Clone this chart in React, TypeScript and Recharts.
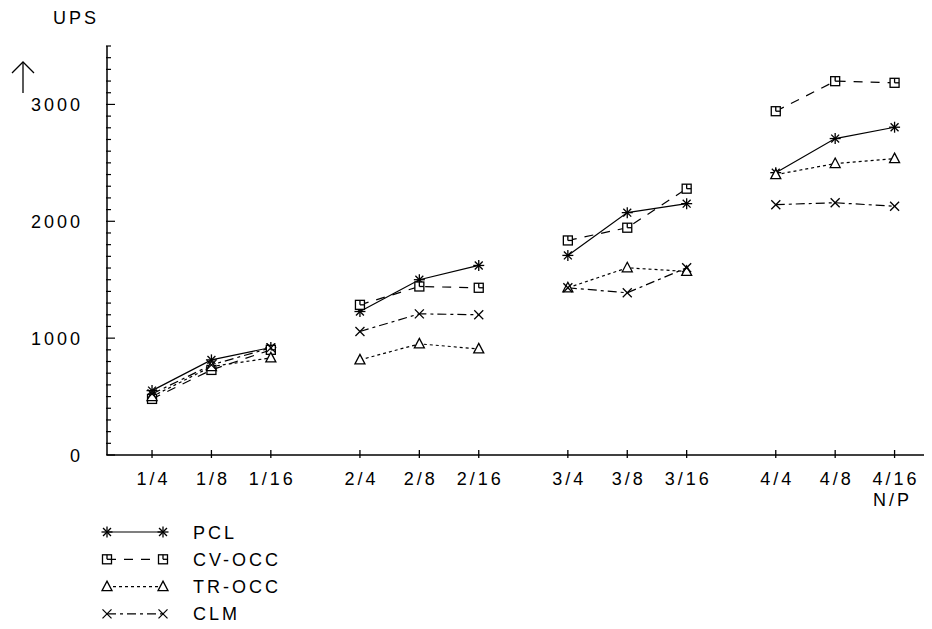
import { Legend, Line, LineChart, XAxis, YAxis } from "recharts";

// N/P configurations, in the order they appear on the x axis
const categories = ["1/4", "1/8", "1/16", "2/4", "2/8", "2/16", "3/4", "3/8", "3/16", "4/4", "4/8", "4/16"];

// UPS
const pcl = [551, 814, 920, 1228, 1500, 1622, 1708, 2074, 2151, 2416, 2708, 2805];
const cvOcc = [480, 728, 900, 1285, 1442, 1431, 1836, 1945, 2279, 2942, 3199, 3185];
const trOcc = [500, 757, 831, 814, 951, 908, 1431, 1602, 1571, 2399, 2494, 2536];
const clm = [523, 771, 917, 1057, 1208, 1200, 1431, 1388, 1602, 2142, 2159, 2128];

const majorTicks = [0, 1000, 2000, 3000];
const Y_MAX = 3500;
const Y_STEP = 100;

const FONT = "'Liberation Sans', Arial, sans-serif";
const INK = "#000";

type MarkerKind = "star" | "square" | "triangle" | "cross";

const SERIES: { key: string; name: string; marker: MarkerKind; dash?: string }[] = [
  { key: "pcl", name: "PCL", marker: "star" },
  { key: "cv", name: "CV-OCC", marker: "square", dash: "9 8" },
  { key: "tr", name: "TR-OCC", marker: "triangle", dash: "3 3" },
  { key: "clm", name: "CLM", marker: "cross", dash: "9 4 3 4" },
];

// three points per group, half a slot of extra space between groups
const GROUP_SIZE = 3;
const GROUP_STEP = 3.5;
const xPositions = categories.map((_, i) => Math.floor(i / GROUP_SIZE) * GROUP_STEP + (i % GROUP_SIZE));

const rows: Record<string, number | string | null>[] = [];
categories.forEach((label, i) => {
  rows.push({ x: xPositions[i], label, pcl: pcl[i], cv: cvOcc[i], tr: trOcc[i], clm: clm[i] });
  // null row after each group so the lines break
  if (i % GROUP_SIZE === GROUP_SIZE - 1 && i < categories.length - 1) {
    rows.push({ x: xPositions[i] + 0.75, label: "", pcl: null, cv: null, tr: null, clm: null });
  }
});

const yTicks = Array.from({ length: Y_MAX / Y_STEP + 1 }, (_, i) => i * Y_STEP);

function Marker({ kind, cx, cy }: { kind: MarkerKind; cx: number; cy: number }) {
  const s = { stroke: INK, strokeWidth: 1.3, fill: "none" };
  if (kind === "star") {
    const r = 5.5;
    const d = r * 0.72;
    return (
      <g {...s}>
        <line x1={cx - r} y1={cy} x2={cx + r} y2={cy} />
        <line x1={cx} y1={cy - r} x2={cx} y2={cy + r} />
        <line x1={cx - d} y1={cy - d} x2={cx + d} y2={cy + d} />
        <line x1={cx - d} y1={cy + d} x2={cx + d} y2={cy - d} />
      </g>
    );
  }
  if (kind === "square") {
    return (
      <g {...s}>
        <rect x={cx - 4.5} y={cy - 4.5} width={9} height={9} fill="#fff" />
        <line x1={cx} y1={cy - 4.5} x2={cx} y2={cy} />
        <line x1={cx} y1={cy} x2={cx + 4.5} y2={cy} />
      </g>
    );
  }
  if (kind === "triangle") {
    return (
      <path
        d={`M${cx},${cy - 5.5} L${cx + 5},${cy + 4} L${cx - 5},${cy + 4} Z`}
        fill="#fff"
        stroke={INK}
        strokeWidth={1.3}
      />
    );
  }
  const r = 4.5;
  return (
    <g {...s}>
      <line x1={cx - r} y1={cy - r} x2={cx + r} y2={cy + r} />
      <line x1={cx - r} y1={cy + r} x2={cx + r} y2={cy - r} />
    </g>
  );
}

function makeDot(kind: MarkerKind) {
  return function Dot(props: any) {
    const { cx, cy, value, index } = props;
    if (cx == null || cy == null || value == null) return <g key={index} />;
    return <Marker key={index} kind={kind} cx={cx} cy={cy} />;
  };
}

const textStyle = { fontFamily: FONT, fontSize: 18, letterSpacing: 3, fill: INK };

function YTick(props: any) {
  const { x, y, payload } = props;
  const v = payload.value as number;
  const major = majorTicks.includes(v);
  return (
    <g>
      <line x1={x - 1} x2={x + (major ? 8 : 4)} y1={y} y2={y} stroke={INK} strokeWidth={1.2} />
      {major && (
        <text x={x - 24} y={y + 6.5} textAnchor="end" style={textStyle}>
          {v}
        </text>
      )}
    </g>
  );
}

function XTick(props: any) {
  const { x, y, payload } = props;
  const i = xPositions.indexOf(payload.value);
  return (
    <g>
      <line x1={x} x2={x} y1={y - 5} y2={y + 3} stroke={INK} strokeWidth={1.3} />
      <text x={x + 1.5} y={y + 30} textAnchor="middle" style={textStyle}>
        {categories[i]}
      </text>
      {i === categories.length - 1 && (
        <text x={x - 2} y={y + 51} textAnchor="middle" style={textStyle}>
          N/P
        </text>
      )}
    </g>
  );
}

function LegendContent() {
  const x0 = 12;
  const x1 = 68;
  return (
    <svg width={240} height={114}>
      {SERIES.map((s, i) => {
        const y = 17 + i * 27.3;
        return (
          <g key={s.key}>
            <line x1={x0} x2={x1} y1={y} y2={y} stroke={INK} strokeWidth={1.2} strokeDasharray={s.dash} />
            <Marker kind={s.marker} cx={x0} cy={y} />
            <Marker kind={s.marker} cx={x1} cy={y} />
            <text x={98} y={y + 6.5} style={textStyle}>
              {s.name}
            </text>
          </g>
        );
      })}
    </svg>
  );
}

export default function App() {
  return (
    <div style={{ position: "relative", width: 932, height: 629, margin: -8, background: "#fff" }}>
      <LineChart
        width={932}
        height={629}
        data={rows}
        margin={{ top: 46, right: 0, bottom: 134, left: 47 }}
      >
        <XAxis
          dataKey="x"
          type="number"
          domain={[-0.758, 13.13]}
          ticks={xPositions}
          interval={0}
          tickSize={0}
          tickMargin={0}
          tickLine={false}
          height={40}
          axisLine={{ stroke: INK, strokeWidth: 1.5 }}
          tick={<XTick />}
        />
        <YAxis
          type="number"
          domain={[0, Y_MAX]}
          ticks={yTicks}
          interval={0}
          tickSize={0}
          tickMargin={0}
          tickLine={false}
          width={60}
          axisLine={{ stroke: INK, strokeWidth: 1.5 }}
          tick={<YTick />}
        />
        {SERIES.map((s) => (
          <Line
            key={s.key}
            dataKey={s.key}
            name={s.name}
            stroke={INK}
            strokeWidth={1.2}
            strokeDasharray={s.dash}
            type="linear"
            connectNulls={false}
            dot={makeDot(s.marker)}
            activeDot={false}
            isAnimationActive={false}
          />
        ))}
        <Legend
          layout="horizontal"
          verticalAlign="middle"
          align="center"
          content={<LegendContent />}
          wrapperStyle={{ position: "absolute", left: 95, top: 515, width: 240, height: 114 }}
        />
      </LineChart>
      <svg width={120} height={110} style={{ position: "absolute", left: 0, top: 0 }}>
        <text x={53} y={23.5} style={textStyle}>
          UPS
        </text>
        <line x1={23} x2={23} y1={62} y2={93} stroke={INK} strokeWidth={1.3} />
        <polyline points="12,73 23,62 34,73" fill="none" stroke={INK} strokeWidth={1.3} />
      </svg>
    </div>
  );
}
